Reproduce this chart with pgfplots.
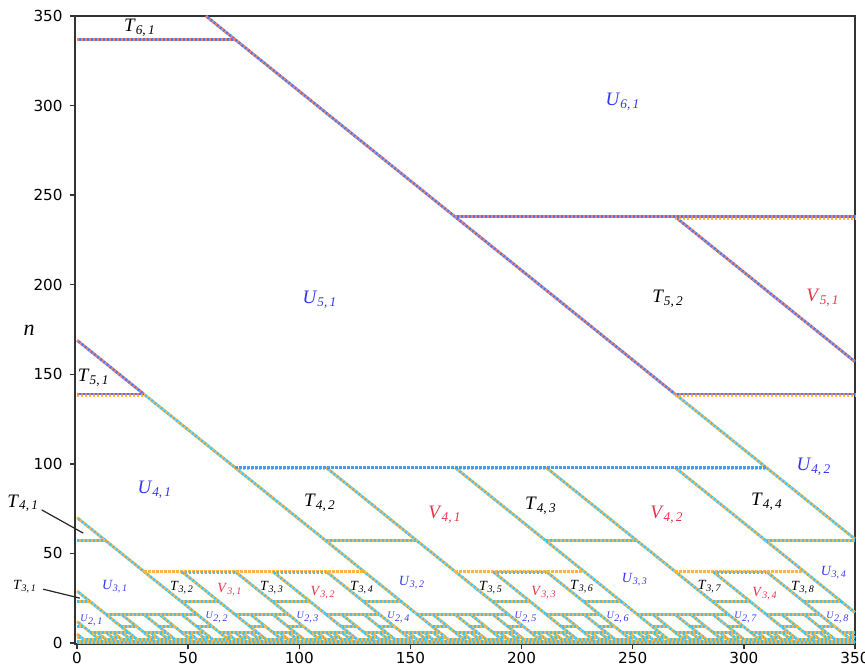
\documentclass[border=0pt]{standalone}
\usepackage{pgfplots}
\pgfplotsset{compat=1.18}
\usepackage{pgfplotstable}
\usepackage{fontspec}
\setmainfont{Liberation Serif}
\newfontfamily\dejavu{DejaVu Sans}

\definecolor{uR}{HTML}{F27E6D}
\definecolor{uB}{HTML}{5076EA}
\definecolor{lO}{HTML}{FDB541}
\definecolor{lC}{HTML}{45C2EF}
\definecolor{mB}{HTML}{4A9BF2}
\definecolor{ulab}{HTML}{3535F0}
\definecolor{vlab}{HTML}{E8324C}

\newcommand{\lb}[3]{\textit{#1}\textsubscript{\textit{#2},\,\textit{#3}}}

% upper diagonals (n >= 139)
\pgfplotstableread[row sep=\\]{
x y\\
58 350\\ 269 139\\ nan nan\\
0 169\\ 30 139\\ nan nan\\
269 238\\ 350 157\\
}\diagU

% lower diagonals (n <= 139)
\pgfplotstableread[row sep=\\]{
x y\\
269 139\\ 350 58\\ nan nan\\
30 139\\ 169 0\\ nan nan\\
112 98\\ 210 0\\ nan nan\\
170 98\\ 268 0\\ nan nan\\
211 98\\ 309 0\\ nan nan\\
269 98\\ 350 17\\ nan nan\\
0 70\\ 70 0\\ nan nan\\
47 40\\ 87 0\\ nan nan\\
71 40\\ 111 0\\ nan nan\\
88 40\\ 128 0\\ nan nan\\
112 40\\ 152 0\\ nan nan\\
187 40\\ 227 0\\ nan nan\\
211 40\\ 251 0\\ nan nan\\
286 40\\ 326 0\\ nan nan\\
310 40\\ 350 0\\ nan nan\\
0 29\\ 29 0\\ nan nan\\
20 16\\ 36 0\\ nan nan\\
30 16\\ 46 0\\ nan nan\\
37 16\\ 53 0\\ nan nan\\
47 16\\ 63 0\\ nan nan\\
78 16\\ 94 0\\ nan nan\\
88 16\\ 104 0\\ nan nan\\
119 16\\ 135 0\\ nan nan\\
129 16\\ 145 0\\ nan nan\\
160 16\\ 176 0\\ nan nan\\
170 16\\ 186 0\\ nan nan\\
177 16\\ 193 0\\ nan nan\\
187 16\\ 203 0\\ nan nan\\
218 16\\ 234 0\\ nan nan\\
228 16\\ 244 0\\ nan nan\\
259 16\\ 275 0\\ nan nan\\
269 16\\ 285 0\\ nan nan\\
276 16\\ 292 0\\ nan nan\\
286 16\\ 302 0\\ nan nan\\
317 16\\ 333 0\\ nan nan\\
327 16\\ 343 0\\ nan nan\\
0 12\\ 12 0\\ nan nan\\
9 6\\ 15 0\\ nan nan\\
13 6\\ 19 0\\ nan nan\\
16 6\\ 22 0\\ nan nan\\
20 6\\ 26 0\\ nan nan\\
33 6\\ 39 0\\ nan nan\\
37 6\\ 43 0\\ nan nan\\
50 6\\ 56 0\\ nan nan\\
54 6\\ 60 0\\ nan nan\\
67 6\\ 73 0\\ nan nan\\
71 6\\ 77 0\\ nan nan\\
74 6\\ 80 0\\ nan nan\\
78 6\\ 84 0\\ nan nan\\
91 6\\ 97 0\\ nan nan\\
95 6\\ 101 0\\ nan nan\\
108 6\\ 114 0\\ nan nan\\
112 6\\ 118 0\\ nan nan\\
115 6\\ 121 0\\ nan nan\\
119 6\\ 125 0\\ nan nan\\
132 6\\ 138 0\\ nan nan\\
136 6\\ 142 0\\ nan nan\\
149 6\\ 155 0\\ nan nan\\
153 6\\ 159 0\\ nan nan\\
156 6\\ 162 0\\ nan nan\\
160 6\\ 166 0\\ nan nan\\
173 6\\ 179 0\\ nan nan\\
177 6\\ 183 0\\ nan nan\\
190 6\\ 196 0\\ nan nan\\
194 6\\ 200 0\\ nan nan\\
207 6\\ 213 0\\ nan nan\\
211 6\\ 217 0\\ nan nan\\
214 6\\ 220 0\\ nan nan\\
218 6\\ 224 0\\ nan nan\\
231 6\\ 237 0\\ nan nan\\
235 6\\ 241 0\\ nan nan\\
248 6\\ 254 0\\ nan nan\\
252 6\\ 258 0\\ nan nan\\
255 6\\ 261 0\\ nan nan\\
259 6\\ 265 0\\ nan nan\\
272 6\\ 278 0\\ nan nan\\
276 6\\ 282 0\\ nan nan\\
289 6\\ 295 0\\ nan nan\\
293 6\\ 299 0\\ nan nan\\
306 6\\ 312 0\\ nan nan\\
310 6\\ 316 0\\ nan nan\\
313 6\\ 319 0\\ nan nan\\
317 6\\ 323 0\\ nan nan\\
330 6\\ 336 0\\ nan nan\\
334 6\\ 340 0\\ nan nan\\
347 6\\ 350 3\\ nan nan\\
0 5\\ 5 0\\
}\diagL

% upper horizontals
\pgfplotstableread[row sep=\\]{
x y\\
0 337\\ 71 337\\ nan nan\\
170 238\\ 350 238\\ nan nan\\
0 139\\ 30 139\\ nan nan\\
269 139\\ 350 139\\
}\horU
\pgfplotstableread[row sep=\\]{
x y\\
269 236.9\\ 350 236.9\\ nan nan\\
0 138.1\\ 30 138.1\\ nan nan\\
269 138.1\\ 350 138.1\\
}\horUu

% n = 98 line
\pgfplotstableread[row sep=\\]{
x y\\
71 98\\ 310 98\\
}\horA
\pgfplotstableread[row sep=\\]{
x y\\
71 97.1\\ 112 97.1\\ nan nan\\
170 97.1\\ 211 97.1\\ nan nan\\
269 97.1\\ 310 97.1\\
}\horAu

% n = 40 line
\pgfplotstableread[row sep=\\]{
x y\\
30 40\\ 129 40\\ nan nan\\
170 40\\ 228 40\\ nan nan\\
269 40\\ 327 40\\
}\horB
\pgfplotstableread[row sep=\\]{
x y\\
47 39.1\\ 71 39.1\\ nan nan\\
88 39.1\\ 112 39.1\\ nan nan\\
187 39.1\\ 211 39.1\\ nan nan\\
286 39.1\\ 310 39.1\\
}\horBu

% other lower horizontals
\pgfplotstableread[row sep=\\]{
x y\\
0 57\\ 13 57\\ nan nan\\
112 57\\ 153 57\\ nan nan\\
211 57\\ 252 57\\ nan nan\\
310 57\\ 350 57\\ nan nan\\
0 23\\ 6 23\\ nan nan\\
47 23\\ 64 23\\ nan nan\\
88 23\\ 105 23\\ nan nan\\
129 23\\ 146 23\\ nan nan\\
187 23\\ 204 23\\ nan nan\\
228 23\\ 245 23\\ nan nan\\
286 23\\ 303 23\\ nan nan\\
327 23\\ 344 23\\ nan nan\\
13 16\\ 54 16\\ nan nan\\
71 16\\ 95 16\\ nan nan\\
112 16\\ 136 16\\ nan nan\\
153 16\\ 194 16\\ nan nan\\
211 16\\ 235 16\\ nan nan\\
252 16\\ 293 16\\ nan nan\\
310 16\\ 334 16\\ nan nan\\
0 9\\ 3 9\\ nan nan\\
20 9\\ 27 9\\ nan nan\\
37 9\\ 44 9\\ nan nan\\
54 9\\ 61 9\\ nan nan\\
78 9\\ 85 9\\ nan nan\\
95 9\\ 102 9\\ nan nan\\
119 9\\ 126 9\\ nan nan\\
136 9\\ 143 9\\ nan nan\\
160 9\\ 167 9\\ nan nan\\
177 9\\ 184 9\\ nan nan\\
194 9\\ 201 9\\ nan nan\\
218 9\\ 225 9\\ nan nan\\
235 9\\ 242 9\\ nan nan\\
259 9\\ 266 9\\ nan nan\\
276 9\\ 283 9\\ nan nan\\
293 9\\ 300 9\\ nan nan\\
317 9\\ 324 9\\ nan nan\\
334 9\\ 341 9\\ nan nan\\
6 6\\ 23 6\\ nan nan\\
30 6\\ 40 6\\ nan nan\\
47 6\\ 57 6\\ nan nan\\
64 6\\ 81 6\\ nan nan\\
88 6\\ 98 6\\ nan nan\\
105 6\\ 122 6\\ nan nan\\
129 6\\ 139 6\\ nan nan\\
146 6\\ 163 6\\ nan nan\\
170 6\\ 180 6\\ nan nan\\
187 6\\ 197 6\\ nan nan\\
204 6\\ 221 6\\ nan nan\\
228 6\\ 238 6\\ nan nan\\
245 6\\ 262 6\\ nan nan\\
269 6\\ 279 6\\ nan nan\\
286 6\\ 296 6\\ nan nan\\
303 6\\ 320 6\\ nan nan\\
327 6\\ 337 6\\ nan nan\\
344 6\\ 350 6\\ nan nan\\
0 1\\ 350 1\\ nan nan\\
0 0\\ 350 0\\
}\horL

% n = 3 and n = 2 lines
\pgfplotstableread[row sep=\\]{
x y\\
0 3\\ 2 3\\ nan nan\\ 9 3\\ 12 3\\ nan nan\\ 16 3\\ 19 3\\ nan nan\\ 23 3\\ 26 3\\ nan nan\\
33 3\\ 36 3\\ nan nan\\ 40 3\\ 43 3\\ nan nan\\ 50 3\\ 53 3\\ nan nan\\ 57 3\\ 60 3\\ nan nan\\
67 3\\ 70 3\\ nan nan\\ 74 3\\ 77 3\\ nan nan\\ 81 3\\ 84 3\\ nan nan\\ 91 3\\ 94 3\\ nan nan\\
98 3\\ 101 3\\ nan nan\\ 108 3\\ 111 3\\ nan nan\\ 115 3\\ 118 3\\ nan nan\\ 122 3\\ 125 3\\ nan nan\\
132 3\\ 135 3\\ nan nan\\ 139 3\\ 142 3\\ nan nan\\ 149 3\\ 152 3\\ nan nan\\ 156 3\\ 159 3\\ nan nan\\
163 3\\ 166 3\\ nan nan\\ 173 3\\ 176 3\\ nan nan\\ 180 3\\ 183 3\\ nan nan\\ 190 3\\ 193 3\\ nan nan\\
197 3\\ 200 3\\ nan nan\\ 207 3\\ 210 3\\ nan nan\\ 214 3\\ 217 3\\ nan nan\\ 221 3\\ 224 3\\ nan nan\\
231 3\\ 234 3\\ nan nan\\ 238 3\\ 241 3\\ nan nan\\ 248 3\\ 251 3\\ nan nan\\ 255 3\\ 258 3\\ nan nan\\
262 3\\ 265 3\\ nan nan\\ 272 3\\ 275 3\\ nan nan\\ 279 3\\ 282 3\\ nan nan\\ 289 3\\ 292 3\\ nan nan\\
296 3\\ 299 3\\ nan nan\\ 306 3\\ 309 3\\ nan nan\\ 313 3\\ 316 3\\ nan nan\\ 320 3\\ 323 3\\ nan nan\\
330 3\\ 333 3\\ nan nan\\ 337 3\\ 340 3\\ nan nan\\ 347 3\\ 350 3\\ nan nan\\
3 2\\ 10 2\\ nan nan\\ 13 2\\ 17 2\\ nan nan\\ 20 2\\ 24 2\\ nan nan\\ 27 2\\ 34 2\\ nan nan\\
37 2\\ 41 2\\ nan nan\\ 44 2\\ 51 2\\ nan nan\\ 54 2\\ 58 2\\ nan nan\\ 61 2\\ 68 2\\ nan nan\\
71 2\\ 75 2\\ nan nan\\ 78 2\\ 82 2\\ nan nan\\ 85 2\\ 92 2\\ nan nan\\ 95 2\\ 99 2\\ nan nan\\
102 2\\ 109 2\\ nan nan\\ 112 2\\ 116 2\\ nan nan\\ 119 2\\ 123 2\\ nan nan\\ 126 2\\ 133 2\\ nan nan\\
136 2\\ 140 2\\ nan nan\\ 143 2\\ 150 2\\ nan nan\\ 153 2\\ 157 2\\ nan nan\\ 160 2\\ 164 2\\ nan nan\\
167 2\\ 174 2\\ nan nan\\ 177 2\\ 181 2\\ nan nan\\ 184 2\\ 191 2\\ nan nan\\ 194 2\\ 198 2\\ nan nan\\
201 2\\ 208 2\\ nan nan\\ 211 2\\ 215 2\\ nan nan\\ 218 2\\ 222 2\\ nan nan\\ 225 2\\ 232 2\\ nan nan\\
235 2\\ 239 2\\ nan nan\\ 242 2\\ 249 2\\ nan nan\\ 252 2\\ 256 2\\ nan nan\\ 259 2\\ 263 2\\ nan nan\\
266 2\\ 273 2\\ nan nan\\ 276 2\\ 280 2\\ nan nan\\ 283 2\\ 290 2\\ nan nan\\ 293 2\\ 297 2\\ nan nan\\
300 2\\ 307 2\\ nan nan\\ 310 2\\ 314 2\\ nan nan\\ 317 2\\ 321 2\\ nan nan\\ 324 2\\ 331 2\\ nan nan\\
334 2\\ 338 2\\ nan nan\\ 341 2\\ 348 2\\
}\horLL

\pgfplotsset{
  dotA/.style={line width=1.45pt, dash pattern=on 1pt off 1pt},
  dotB/.style={line width=1.45pt, dash pattern=on 1pt off 1pt, dash phase=1pt},
}

\begin{document}
\begin{tikzpicture}
\begin{axis}[
  scale only axis, width=390.1pt, height=314.1pt,
  xmin=-1, xmax=350, ymin=-0.7, ymax=350,
  clip=false, unbounded coords=jump,
  axis line style={black!80, line width=0.8pt},
  tick align=outside, tick pos=left, major tick length=2.6pt,
  tick style={black!80, line width=0.7pt},
  xtick={0,50,...,350}, ytick={0,50,...,350},
  /pgf/number format/assume math mode=true,
  tick label style={font=\dejavu\fontsize{7.6}{9}\selectfont},
  xticklabel style={yshift=2pt},
]
% lower structure
\addplot[lO, dotA] table {\diagL};
\addplot[lC, dotB] table {\diagL};
\addplot[lC, dotA] table {\horL};
\addplot[lO, dotB] table {\horL};
\addplot[lO, dotA] table {\horLL};
\addplot[lC, dotB] table {\horLL};
\addplot[lO, line width=1.45pt, dash pattern=on 1.5pt off 0.5pt] table {\horB};
\addplot[lC, dotA] table {\horBu};
\addplot[lO, dotA] table {\horAu};
\addplot[mB, line width=1.45pt, dash pattern=on 1.5pt off 0.5pt] table {\horA};
% upper structure
\addplot[uR, dotA] table {\diagU};
\addplot[uB, dotB] table {\diagU};
\addplot[lO, dotA] table {\horUu};
\addplot[uR, dotA] table {\horU};
\addplot[uB, dotB] table {\horU};

% labels
\node[font=\fontsize{9.5}{11}\selectfont] at (axis cs:28.3,343.4) {\lb{T}{6}{1}};
\node[font=\fontsize{9.5}{11}\selectfont, text=ulab] at (axis cs:245.6,302) {\lb{U}{6}{1}};
\node[font=\fontsize{9.5}{11}\selectfont, text=ulab] at (axis cs:109.3,191.5) {\lb{U}{5}{1}};
\node[font=\fontsize{9.5}{11}\selectfont] at (axis cs:265.9,192) {\lb{T}{5}{2}};
\node[font=\fontsize{9.5}{11}\selectfont, text=vlab] at (axis cs:335.6,192.6) {\lb{V}{5}{1}};
\node[font=\fontsize{9.5}{11}\selectfont] at (axis cs:7.5,148) {\lb{T}{5}{1}};
\node[font=\fontsize{9.5}{11}\selectfont, text=ulab] at (axis cs:35,85.4) {\lb{U}{4}{1}};
\node[font=\fontsize{9.5}{11}\selectfont] at (axis cs:109.3,78.2) {\lb{T}{4}{2}};
\node[font=\fontsize{9.5}{11}\selectfont, text=vlab] at (axis cs:165.5,71.5) {\lb{V}{4}{1}};
\node[font=\fontsize{9.5}{11}\selectfont] at (axis cs:208.7,76.5) {\lb{T}{4}{3}};
\node[font=\fontsize{9.5}{11}\selectfont, text=vlab] at (axis cs:265.4,71.5) {\lb{V}{4}{2}};
\node[font=\fontsize{9.5}{11}\selectfont] at (axis cs:310.4,78.7) {\lb{T}{4}{4}};
\node[font=\fontsize{9.5}{11}\selectfont, text=ulab] at (axis cs:331.5,98.3) {\lb{U}{4}{2}};
\node[font=\fontsize{9.5}{11}\selectfont] at (axis cs:-24.2,78) {\lb{T}{4}{1}};
\draw[black!85, line width=0.6pt] (axis cs:-15.9,74.3) -- (axis cs:2.8,61.3);
\node[font=\fontsize{7}{8}\selectfont] at (axis cs:-23.4,31.4) {\lb{T}{3}{1}};
\draw[black!85, line width=0.6pt] (axis cs:-15.2,30) -- (axis cs:1.35,25);
% level 3
\node[font=\fontsize{7}{8}\selectfont, text=ulab] at (axis cs:17.1,31.3) {\lb{U}{3}{1}};
\node[font=\fontsize{7}{8}\selectfont] at (axis cs:47.2,30.7) {\lb{T}{3}{2}};
\node[font=\fontsize{7}{8}\selectfont, text=vlab] at (axis cs:68.8,29.6) {\lb{V}{3}{1}};
\node[font=\fontsize{7}{8}\selectfont] at (axis cs:87.7,30.7) {\lb{T}{3}{3}};
\node[font=\fontsize{7}{8}\selectfont, text=vlab] at (axis cs:110.7,27.9) {\lb{V}{3}{2}};
\node[font=\fontsize{7}{8}\selectfont] at (axis cs:128.2,30.7) {\lb{T}{3}{4}};
\node[font=\fontsize{7}{8}\selectfont, text=ulab] at (axis cs:150.7,33.5) {\lb{U}{3}{2}};
\node[font=\fontsize{7}{8}\selectfont] at (axis cs:186.2,30.7) {\lb{T}{3}{5}};
\node[font=\fontsize{7}{8}\selectfont, text=vlab] at (axis cs:210.1,27.9) {\lb{V}{3}{3}};
\node[font=\fontsize{7}{8}\selectfont] at (axis cs:227.2,31.3) {\lb{T}{3}{6}};
\node[font=\fontsize{7}{8}\selectfont, text=ulab] at (axis cs:251,35.2) {\lb{U}{3}{3}};
\node[font=\fontsize{7}{8}\selectfont] at (axis cs:284.7,31.3) {\lb{T}{3}{7}};
\node[font=\fontsize{7}{8}\selectfont, text=vlab] at (axis cs:309.5,27.4) {\lb{V}{3}{4}};
\node[font=\fontsize{7}{8}\selectfont] at (axis cs:326.6,30.7) {\lb{T}{3}{8}};
\node[font=\fontsize{7}{8}\selectfont, text=ulab] at (axis cs:340.5,39.1) {\lb{U}{3}{4}};
% level 2
\node[font=\fontsize{5}{6}\selectfont, text=ulab] at (axis cs:6.7,12.6) {\lb{U}{2}{1}};
\node[font=\fontsize{5}{6}\selectfont, text=ulab] at (axis cs:63,14.2) {\lb{U}{2}{2}};
\node[font=\fontsize{5}{6}\selectfont, text=ulab] at (axis cs:103.9,14.2) {\lb{U}{2}{3}};
\node[font=\fontsize{5}{6}\selectfont, text=ulab] at (axis cs:144.8,14.2) {\lb{U}{2}{4}};
\node[font=\fontsize{5}{6}\selectfont, text=ulab] at (axis cs:202,14.2) {\lb{U}{2}{5}};
\node[font=\fontsize{5}{6}\selectfont, text=ulab] at (axis cs:243.4,14.2) {\lb{U}{2}{6}};
\node[font=\fontsize{5}{6}\selectfont, text=ulab] at (axis cs:301,14.2) {\lb{U}{2}{7}};
\node[font=\fontsize{5}{6}\selectfont, text=ulab] at (axis cs:342.3,14.2) {\lb{U}{2}{8}};
% axis label
\node[font=\fontsize{11}{13}\selectfont\itshape] at (axis cs:-21.5,174.8) {n};
\end{axis}
\pgfresetboundingbox
\path[use as bounding box] ([xshift=-37.4pt,yshift=-10.85pt]current axis.south west) rectangle ([xshift=5pt,yshift=8pt]current axis.north east);
\end{tikzpicture}
\end{document}
